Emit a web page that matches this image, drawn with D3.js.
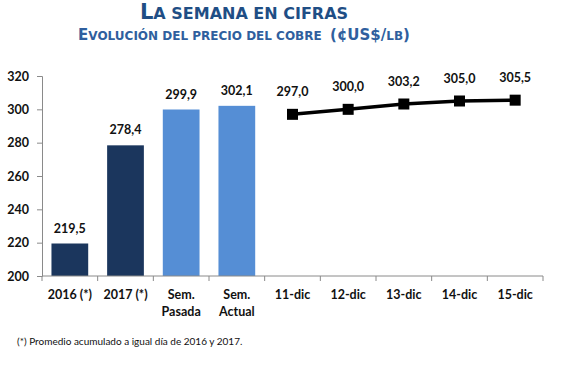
<!DOCTYPE html>
<html><head><meta charset="utf-8">
<script src="https://cdn.jsdelivr.net/npm/d3@7"></script>
<style>
body{margin:0;background:#fff;}
svg{display:block;}
</style></head>
<body>
<svg id="c" width="586" height="366"></svg>
<script>
const categories = ["2016 (*)", "2017 (*)", "Sem.|Pasada", "Sem.|Actual", "11-dic", "12-dic", "13-dic", "14-dic", "15-dic"];
const barCategories = ["2016 (*)", "2017 (*)", "Sem.|Pasada", "Sem.|Actual"];
const barValues = [219.5, 278.4, 299.9, 302.1];
const barColors = ["#1B365D", "#1B365D", "#558ED5", "#558ED5"];
const lineCategories = ["11-dic", "12-dic", "13-dic", "14-dic", "15-dic"];
const lineValues = [297.0, 300.0, 303.2, 305.0, 305.5];
const yTicks = [200, 220, 240, 260, 280, 300, 320];

const svg = d3.select("#c");
const x = d3.scaleBand().domain(categories).range([42, 543]).paddingInner(0.34).paddingOuter(0.17);
const y = d3.scaleLinear().domain([200, 320]).range([276, 76]);
const fmt = v => v.toFixed(1).replace(".", ",");
const lblFont = "Lato, 'Open Sans', sans-serif";

// Title
const t1 = svg.append("text").attr("x", 244).attr("y", 19).attr("text-anchor", "middle")
  .attr("fill", "#1F4E85").attr("font-family", "'DejaVu Sans', Verdana, sans-serif").attr("font-weight", "bold");
t1.append("tspan").attr("font-size", 21).text("L");
t1.append("tspan").attr("font-size", 16).text("A SEMANA EN CIFRAS");
const t2 = svg.append("text").attr("x", 244).attr("y", 40).attr("text-anchor", "middle")
  .style("white-space", "pre")
  .attr("fill", "#2F5F9E").attr("font-family", "'DejaVu Sans', Verdana, sans-serif").attr("font-weight", "bold");
t2.append("tspan").attr("font-size", 15).text("E");
t2.append("tspan").attr("font-size", 12).text("VOLUCIÓN DEL PRECIO DEL COBRE  ");
t2.append("tspan").attr("font-size", 15).text("(¢US$/");
t2.append("tspan").attr("font-size", 12).text("LB");
t2.append("tspan").attr("font-size", 15).text(")");

// Bars
svg.append("g").selectAll("rect").data(barValues).join("rect")
  .attr("x", (d, i) => x(barCategories[i]))
  .attr("width", x.bandwidth())
  .attr("y", d => y(d))
  .attr("height", d => y(200) - y(d))
  .attr("fill", (d, i) => barColors[i]);

svg.append("g").selectAll("text").data(barValues).join("text")
  .attr("x", (d, i) => x(barCategories[i]) + x.bandwidth() / 2)
  .attr("y", d => y(d) - 11)
  .attr("text-anchor", "middle").attr("font-family", lblFont).attr("font-weight", "bold")
  .attr("font-size", 12.5).attr("fill", "#111").text(fmt);

// Axes
const yAxis = svg.append("g").attr("transform", "translate(42,0)")
  .call(d3.axisLeft(y).tickValues(yTicks).tickSize(5).tickPadding(8).tickFormat(d3.format("d")));
yAxis.select(".domain").attr("stroke", "#8a8a8a");
yAxis.selectAll(".tick line").attr("stroke", "#8a8a8a");
yAxis.selectAll(".tick text").attr("font-family", lblFont).attr("font-weight", "bold").attr("font-size", 12.5).attr("fill", "#111");

const xg = svg.append("g");
xg.append("line").attr("x1", 42).attr("x2", 543).attr("y1", y(200)).attr("y2", y(200)).attr("stroke", "#8a8a8a");
const bounds = categories.map(c => x(c) - x.step() * x.paddingInner() / 2).concat([543]);
xg.selectAll("line.tk").data(bounds).join("line").attr("class", "tk")
  .attr("x1", d => d).attr("x2", d => d).attr("y1", y(200)).attr("y2", y(200) + 5).attr("stroke", "#8a8a8a");
const xl = xg.selectAll("text").data(categories).join("text")
  .attr("x", d => x(d) + x.bandwidth() / 2).attr("y", 299)
  .attr("text-anchor", "middle").attr("font-family", lblFont).attr("font-weight", "bold")
  .attr("font-size", 12.5).attr("fill", "#111");
xl.each(function(d) {
  const parts = d.split("|");
  const el = d3.select(this);
  parts.forEach((p, i) => el.append("tspan").attr("x", x(d) + x.bandwidth() / 2).attr("dy", i ? 17 : 0).text(p));
});

// Line
const line = d3.line().x((d, i) => x(lineCategories[i]) + x.bandwidth() / 2).y(d => y(d));
svg.append("path").datum(lineValues).attr("d", line).attr("fill", "none").attr("stroke", "#000").attr("stroke-width", 3.5);
svg.append("g").selectAll("rect").data(lineValues).join("rect")
  .attr("x", (d, i) => x(lineCategories[i]) + x.bandwidth() / 2 - 5.5)
  .attr("y", d => y(d) - 5.5).attr("width", 11).attr("height", 11).attr("fill", "#000");
svg.append("g").selectAll("text").data(lineValues).join("text")
  .attr("x", (d, i) => x(lineCategories[i]) + x.bandwidth() / 2)
  .attr("y", d => y(d) - 18)
  .attr("text-anchor", "middle").attr("font-family", lblFont).attr("font-weight", "bold")
  .attr("font-size", 12.5).attr("fill", "#111").text(fmt);

// Footnote
svg.append("text").attr("x", 17).attr("y", 345).attr("font-family", lblFont)
  .attr("font-size", 10).attr("fill", "#111").text("(*) Promedio acumulado a igual día de 2016 y 2017.");
</script>
</body></html>
